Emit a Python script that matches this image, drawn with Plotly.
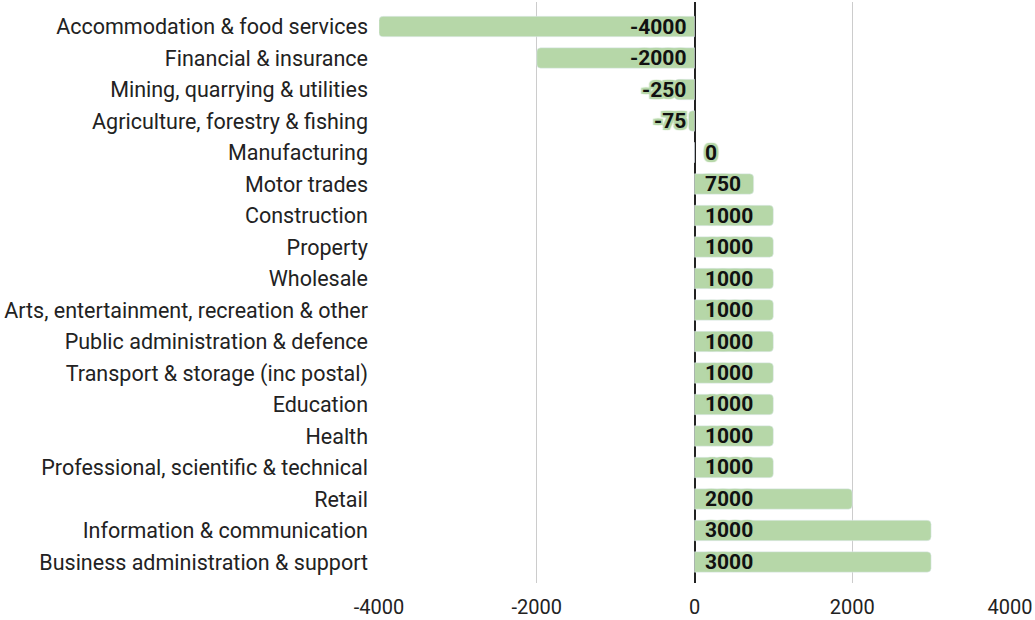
import plotly.graph_objects as go

categories = [
    "Accommodation & food services",
    "Financial & insurance",
    "Mining, quarrying & utilities",
    "Agriculture, forestry & fishing",
    "Manufacturing",
    "Motor trades",
    "Construction",
    "Property",
    "Wholesale",
    "Arts, entertainment, recreation & other",
    "Public administration & defence",
    "Transport & storage (inc postal)",
    "Education",
    "Health",
    "Professional, scientific & technical",
    "Retail",
    "Information & communication",
    "Business administration & support",
]
values = [-4000, -2000, -250, -75, 0, 750, 1000, 1000, 1000, 1000,
          1000, 1000, 1000, 1000, 1000, 2000, 3000, 3000]
tick_values = [-4000, -2000, 0, 2000, 4000]

BAR = "#b6d7a8"
FONT = "Roboto"
halo = ", ".join([f"{dx}px {dy}px 1px {BAR}" for dx in (-2, 0, 2) for dy in (-2, 0, 2)])

fig = go.Figure(go.Bar(
    x=values,
    y=categories,
    orientation="h",
    marker=dict(color=BAR, cornerradius=4),
    hoverinfo="skip",
))

# value labels anchored at the zero line, pointing along each bar
for cat, v in zip(categories, values):
    left = v < 0
    fig.add_annotation(
        x=0, y=cat, xref="x", yref="y",
        text=f"<b>{v}</b>",
        showarrow=False,
        xanchor="right" if left else "left",
        xshift=-7 if left else 8,
        font=dict(family=FONT, size=21, color="#111111", shadow=halo),
    )

n = len(categories)
fig.update_layout(
    width=1035,
    height=620,
    margin=dict(l=379, r=25, t=2, b=37),
    paper_bgcolor="white",
    plot_bgcolor="white",
    bargap=0.35,
    showlegend=False,
    font=dict(family=FONT, size=21, color="#222222"),
    xaxis=dict(
        range=[-4000, 4000],
        tickvals=tick_values,
        ticktext=[str(t) for t in tick_values],
        showgrid=True,
        gridcolor="#cccccc",
        gridwidth=1,
        zeroline=True,
        zerolinecolor="#222222",
        zerolinewidth=1.5,
        showline=False,
        automargin=False,
        tickfont=dict(family=FONT, size=20, color="#222222"),
        ticklabelstandoff=10,
    ),
    yaxis=dict(
        range=[n - 1 + 0.667, -0.778],
        showgrid=False,
        ticks="",
        automargin=False,
        ticklabelstandoff=10,
        tickfont=dict(family=FONT, size=21.5, color="#222222"),
    ),
)

fig.write_html("out.html")
